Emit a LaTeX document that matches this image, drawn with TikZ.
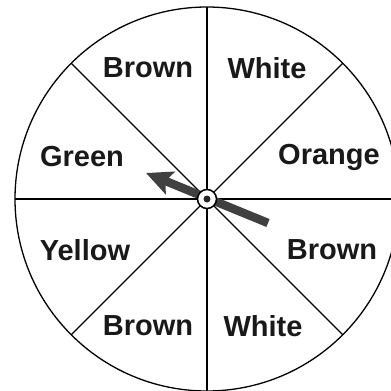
\documentclass[tikz,border=0pt]{standalone}
\usepackage{fontspec}
\setmainfont{Liberation Sans}
\usetikzlibrary{arrows.meta}
\tikzset{
  rim/.style={line width=1.3bp, draw=black},
  spoke/.style={line width=1.3bp, draw=black},
  lbl/.style={font=\fontsize{29bp}{30bp}\selectfont\bfseries, inner sep=0pt, text=black!90},
  needle/.style={line width=8.5bp, draw=black!75, -{Stealth[length=26bp,width=24bp,inset=5bp]}},
  hubstyle/.style={circle, draw=black, line width=1.5bp, fill=white, minimum size=19bp, inner sep=0pt}
}
\begin{document}
\begin{tikzpicture}[x=1bp,y=-1bp]
\useasboundingbox (0,0) rectangle (391,391);
\clip (0,0) rectangle (391,391);
\coordinate (c) at (207,199);
\draw[rim] (c) circle[radius=192];
\foreach \a in {0,45,...,315} {
  \draw[spoke] (c) -- ++(\a:192);
}
\node[lbl] (brownTL) at (148,68) {Brown};
\node[lbl] (whiteTR) at (267,68) {White};
\node[lbl] (green) at (82,157) {Green};
\node[lbl] (orange) at (329,157) {Orange};
\node[lbl] (yellow) at (85,250) {Yellow};
\node[lbl] (brownR) at (332,250) {Brown};
\node[lbl] (brownB) at (148,326) {Brown};
\node[lbl] (whiteB) at (263,326) {White};
\coordinate (tail) at (268,223);
\coordinate (tip) at (146,173);
\draw[needle] (tail) -- (tip);
\node[hubstyle] (hub) at (c) {};
\fill[black!85] (hub.center) circle[radius=3.5];
\end{tikzpicture}
\end{document}
